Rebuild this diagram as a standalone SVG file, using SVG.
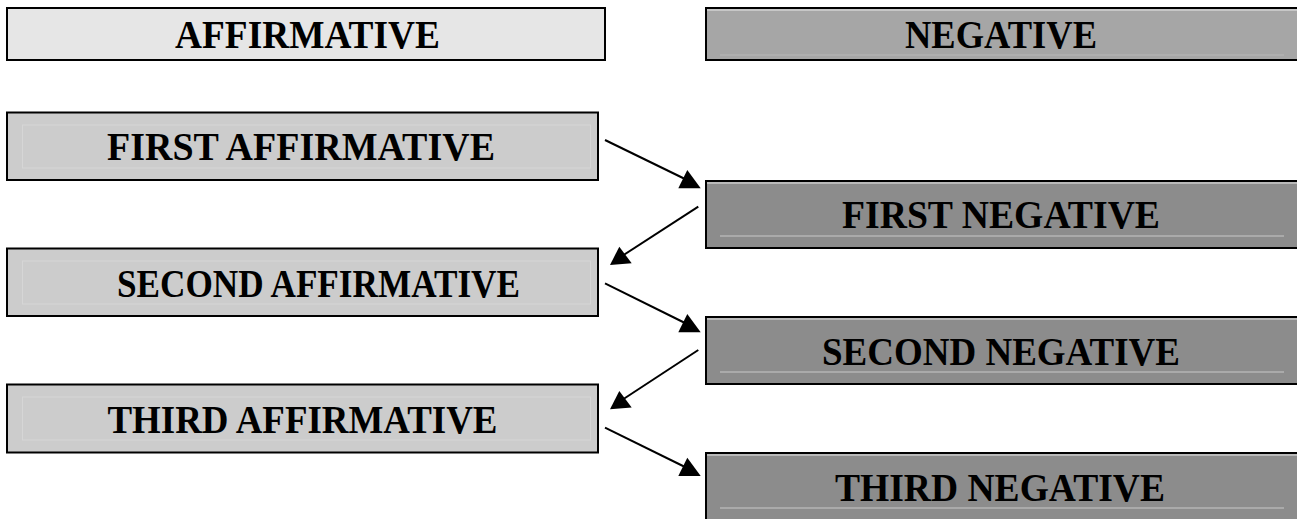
<svg xmlns="http://www.w3.org/2000/svg" width="1297" height="519" viewBox="0 0 1297 519">
<style>
.box{stroke:#000;stroke-width:2}
.hdrA{fill:#e6e6e6}
.hdrN{fill:#a6a6a6}
.aff{fill:#cccccc}
.neg{fill:#8c8c8c}
.innerA{fill:none;stroke:#d6d6d6;stroke-width:1}
.innerN{fill:none;stroke:#b4b4b4;stroke-width:1.5}
.hl{stroke:#e8e8e8;stroke-width:1}
.t{font-family:"Liberation Serif","Times New Roman",serif;font-weight:bold;font-size:40px;text-anchor:middle;fill:#000}
.conn line{stroke:#000;stroke-width:2}
.conn polygon{fill:#000}
</style>
<rect width="1297" height="519" fill="#fff"/>

<g id="header-affirmative">
<rect class="box hdrA" x="7" y="8" width="598" height="52"/>
<text class="t" x="307.5" y="48" textLength="265" lengthAdjust="spacingAndGlyphs">AFFIRMATIVE</text>
</g>
<g id="header-negative">
<rect class="box hdrN" x="706" y="8" width="600" height="52"/>
<line class="hl" x1="707" y1="10" x2="1297" y2="10"/>
<line x1="720" y1="55" x2="1284" y2="55" stroke="#b8b8b8" stroke-width="1"/>
<text class="t" x="1001" y="48" textLength="192" lengthAdjust="spacingAndGlyphs">NEGATIVE</text>
</g>

<g id="first-affirmative">
<rect class="box aff" x="7" y="112.5" width="591" height="67.5"/>
<rect class="innerA" x="22.5" y="125" width="568" height="43"/>
<text class="t" x="301" y="160" textLength="388" lengthAdjust="spacingAndGlyphs">FIRST AFFIRMATIVE</text>
</g>
<g id="first-negative">
<rect class="box neg" x="706" y="181" width="600" height="67"/>
<line class="hl" x1="707" y1="183" x2="1297" y2="183"/>
<line class="innerN" x1="720" y1="236" x2="1284" y2="236"/>
<text class="t" x="1001" y="228" textLength="318" lengthAdjust="spacingAndGlyphs">FIRST NEGATIVE</text>
</g>

<g id="second-affirmative">
<rect class="box aff" x="7" y="248.5" width="591" height="67.5"/>
<rect class="innerA" x="22.5" y="261" width="568" height="43"/>
<text class="t" x="318.5" y="297" textLength="403" lengthAdjust="spacingAndGlyphs">SECOND AFFIRMATIVE</text>
</g>
<g id="second-negative">
<rect class="box neg" x="706" y="317" width="600" height="67"/>
<line class="hl" x1="707" y1="319" x2="1297" y2="319"/>
<line class="innerN" x1="720" y1="372" x2="1284" y2="372"/>
<text class="t" x="1001" y="365" textLength="358" lengthAdjust="spacingAndGlyphs">SECOND NEGATIVE</text>
</g>

<g id="third-affirmative">
<rect class="box aff" x="7" y="384.5" width="591" height="68"/>
<rect class="innerA" x="22.5" y="397" width="568" height="43"/>
<text class="t" x="302.5" y="433" textLength="390" lengthAdjust="spacingAndGlyphs">THIRD AFFIRMATIVE</text>
</g>
<g id="third-negative">
<rect class="box neg" x="706" y="453" width="600" height="80"/>
<line class="hl" x1="707" y1="455" x2="1297" y2="455"/>
<line class="innerN" x1="720" y1="508" x2="1284" y2="508"/>
<text class="t" x="1000" y="501" textLength="330" lengthAdjust="spacingAndGlyphs">THIRD NEGATIVE</text>
</g>

<g id="connectors" class="conn">
<line x1="605" y1="140" x2="685" y2="179"/>
<polygon points="700.7,188.3 678.3,188.3 687.3,170"/>
<line x1="698.3" y1="206.7" x2="622" y2="256"/>
<polygon points="610,265 619.3,246.7 631.7,263.3"/>
<line x1="605" y1="283.3" x2="685" y2="323"/>
<polygon points="700.7,332.3 678.3,332.3 687.3,314"/>
<line x1="698.3" y1="350" x2="622" y2="400"/>
<polygon points="610,409.3 619.3,391 631.7,407.6"/>
<line x1="605" y1="427.7" x2="685" y2="467"/>
<polygon points="700.7,476 678.3,476 687.3,457.7"/>
</g>
</svg>
